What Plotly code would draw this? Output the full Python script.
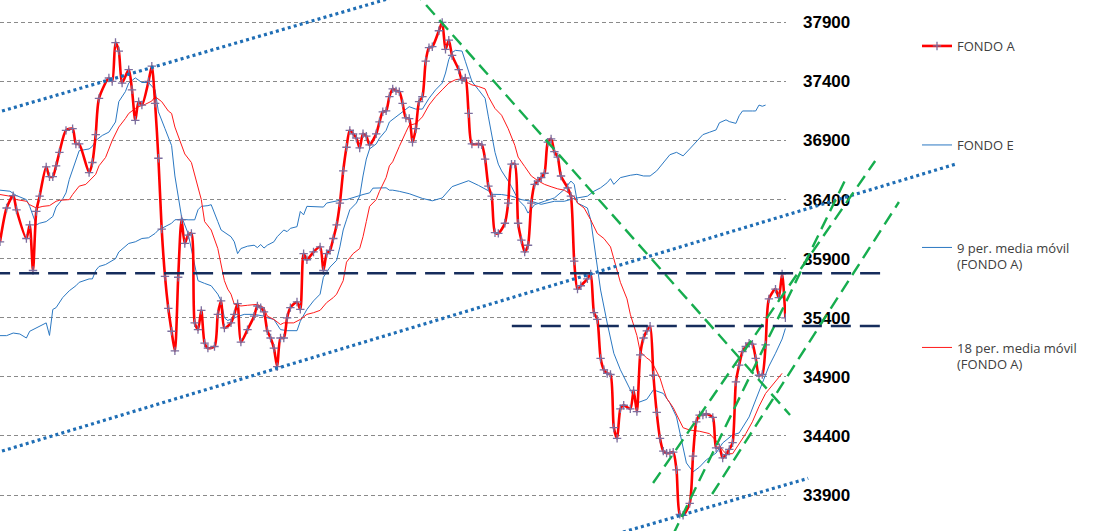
import plotly.graph_objects as go

# ---------------- data (session index, value) ----------------
fa_day = [0, 2, 4, 5, 8, 9, 10, 11, 12, 14,
          15, 16, 17, 18, 20, 22, 23, 24, 27, 28,
          29, 30, 33, 34, 35, 36, 37, 39, 40, 41,
          42, 43, 45, 46, 47, 48, 49, 50, 51, 52,
          53, 54, 55, 56, 57, 58, 59, 60, 61, 62,
          63, 65, 66, 67, 68, 70, 71, 72, 73, 75,
          77, 78, 79, 80, 81, 82, 83, 84, 85, 86,
          87, 88, 90, 91, 92, 93, 95, 97, 98, 99,
          100, 101, 102, 103, 104, 105, 106, 107, 108, 109,
          110, 111, 112, 114, 115, 116, 117, 118, 119, 120,
          121, 122, 123, 124, 125, 126, 127, 128, 129, 130,
          131, 133, 134, 135, 136, 137, 139, 140, 141, 142,
          143, 145, 146, 147, 148, 149, 150, 151, 153, 154,
          155, 156, 157, 158, 159, 160, 161, 162, 163, 164,
          165, 166, 167, 168, 169, 170, 172, 173, 174, 175,
          176, 178, 179, 180, 181, 182, 183, 184, 185, 186,
          187, 188, 189, 191, 192, 193, 194, 195, 196, 197,
          198, 199, 200, 201, 202, 203, 204, 205, 206, 207,
          209, 210, 211, 212, 213, 214, 216, 217, 218, 219,
          220, 221, 222, 223, 224, 225, 226, 227, 228, 229,
          230, 231, 232, 233, 235, 236, 237, 238]
fa_val = [36043, 36329, 36434, 36314, 36071, 36186, 35800, 36300, 36429, 36677,
          36594, 36594, 36686, 36800, 36986, 37000, 36871, 36871, 36629, 36714,
          36950, 37257, 37429, 37400, 37729, 37657, 37386, 37500, 37329, 37071,
          37229, 37200, 37400, 37529, 37214, 36750, 36150, 35750, 35480, 35286,
          35120, 35743, 36229, 36029, 36100, 36114, 35357, 35300, 35463, 35186,
          35143, 35157, 35429, 35543, 35314, 35357, 35429, 35520, 35194, 35300,
          35414, 35500, 35486, 35450, 35290, 35229, 35143, 34986, 35229, 35229,
          35400, 35486, 35534, 35471, 35943, 35891, 35957, 36000, 35800, 35943,
          35971, 36071, 36186, 36371, 36643, 36843, 36986, 36957, 36920, 36837,
          36957, 36937, 36863, 36957, 37057, 37143, 37151, 37271, 37337, 37320,
          37314, 37214, 37091, 37086, 36886, 37000, 37229, 37271, 37571, 37686,
          37694, 37829, 37900, 37671, 37749, 37620, 37500, 37414, 37429, 37129,
          36871, 36871, 36863, 36743, 36514, 36429, 36120, 36114, 36200, 36371,
          36700, 36700, 36200, 36057, 35957, 36014, 36371, 36529, 36557, 36586,
          36623, 36886, 36914, 36806, 36760, 36600, 36500, 36429, 35880, 35643,
          35671, 35729, 35771, 35443, 35386, 35057, 34960, 34929, 34920, 34471,
          34380, 34629, 34660, 34629, 34786, 34606, 35086, 35229, 35290, 35329,
          34914, 34600, 34380, 34272, 34255, 34257, 34263, 34114, 33737, 33729,
          33830, 34229, 34520, 34577, 34577, 34586, 34557, 34300, 34300, 34214,
          34243, 34286, 34343, 34857, 35000, 35114, 35157, 35186, 35177, 35057,
          34914, 34920, 35171, 35560, 35643, 35570, 35771, 35400]

fe_day = [0, 2, 4, 6, 8, 9, 10, 12, 14, 15,
          16, 17, 18, 19, 21, 23, 24, 27, 28, 29,
          30, 32, 35, 36, 39, 41, 43, 45, 47, 48,
          50, 52, 53, 55, 57, 59, 60, 61, 63, 64,
          66, 67, 70, 71, 72, 73, 75, 77, 78, 79,
          80, 81, 83, 84, 86, 87, 88, 90, 91, 92,
          93, 96, 98, 99, 101, 102, 104, 105, 107, 109,
          110, 112, 113, 115, 117, 118, 119, 121, 124, 128,
          131, 134, 137, 140, 142, 145, 148, 149, 152, 155,
          158, 161, 164, 168, 171, 174, 178, 180, 182, 184,
          185, 186, 188, 191, 193, 195, 197, 199, 201, 203,
          205, 207, 209, 211, 213, 215, 217, 218, 220, 221,
          223, 224, 225, 228, 229, 230, 231, 232]
fe_val = [35249, 35249, 35271, 35263, 35229, 35286, 35300, 35329, 35357, 35251,
          35471, 35486, 35529, 35571, 35629, 35671, 35700, 35729, 35729, 35800,
          35834, 35851, 35900, 35957, 36029, 36043, 36071, 36077, 36114, 36143,
          36171, 36200, 36229, 36234, 36229, 36229, 36314, 36343, 36349, 36357,
          36214, 36143, 36086, 36043, 35943, 35986, 36006, 36014, 35994, 36020,
          35990, 36014, 36043, 36086, 36143, 36129, 36157, 36171, 36300, 36271,
          36343, 36337, 36337, 36371, 36383, 36391, 36400, 36400, 36414, 36434,
          36443, 36457, 36497, 36500, 36500, 36480, 36480, 36470, 36450, 36410,
          36390, 36414, 36510, 36540, 36560, 36520, 36475, 36445, 36443, 36430,
          36400, 36386, 36360, 36386, 36386, 36410, 36429, 36471, 36500, 36543,
          36577, 36529, 36586, 36606, 36614, 36600, 36600, 36643, 36714, 36780,
          36800, 36770, 36829, 36886, 36950, 36970, 36990, 37050, 37075, 37060,
          37045, 37110, 37150, 37150, 37150, 37200, 37190, 37200]

ma9_day = [0, 3, 5, 8, 9, 11, 12, 14, 16, 17,
           19, 20, 21, 23, 24, 27, 28, 29, 31, 33,
           35, 36, 38, 39, 41, 43, 45, 47, 48, 50,
           52, 53, 54, 55, 57, 58, 59, 60, 62, 64,
           66, 67, 68, 69, 71, 73, 74, 77, 80, 81,
           83, 85, 87, 90, 91, 93, 95, 97, 98, 100,
           102, 103, 104, 105, 106, 108, 109, 110, 111, 112,
           114, 115, 117, 118, 120, 122, 124, 126, 128, 130,
           132, 134, 135, 136, 137, 138, 140, 141, 143, 145,
           147, 148, 149, 150, 151, 152, 154, 155, 157, 159,
           160, 162, 165, 168, 171, 173, 174, 175, 177, 178,
           179, 180, 181, 182, 184, 186, 188, 190, 192, 193,
           196, 198, 201, 203, 205, 207, 208, 210, 212, 214,
           217, 219, 222, 224, 227, 229, 231, 233, 235, 237,
           238]
ma9_val = [36480, 36471, 36434, 36400, 36343, 36186, 36200, 36214, 36257, 36337,
           36406, 36457, 36571, 36743, 36814, 36829, 36851, 36900, 36943, 36971,
           37057, 37229, 37314, 37386, 37430, 37391, 37391, 37329, 37143, 37000,
           36857, 36600, 36429, 36257, 36114, 35971, 35857, 35714, 35691, 35671,
           35600, 35543, 35400, 35377, 35400, 35423, 35429, 35429, 35414, 35400,
           35386, 35300, 35291, 35291, 35371, 35471, 35543, 35600, 35743, 35829,
           35886, 36000, 36143, 36229, 36314, 36371, 36429, 36600, 36743, 36829,
           36871, 36920, 36986, 37057, 37100, 37143, 37186, 37166, 37166, 37257,
           37329, 37386, 37471, 37586, 37643, 37663, 37657, 37571, 37400, 37329,
           37257, 37100, 36950, 36800, 36700, 36643, 36557, 36510, 36400, 36343,
           36286, 36357, 36386, 36414, 36486, 36557, 36529, 36371, 36343, 36329,
           36229, 36029, 35800, 35635, 35356, 35100, 34960, 34849, 34733, 34679,
           34710, 34790, 34760, 34679, 34561, 34307, 34172, 34096, 34138, 34197,
           34256, 34341, 34409, 34426, 34561, 34705, 34850, 34990, 35100, 35220,
           35310]

ma18_day = [0, 3, 5, 8, 9, 11, 13, 15, 17, 18,
            21, 22, 24, 26, 27, 29, 30, 32, 34, 36,
            38, 39, 41, 42, 44, 46, 47, 49, 51, 52,
            53, 55, 56, 58, 60, 61, 62, 64, 66, 67,
            68, 69, 70, 71, 73, 75, 78, 80, 81, 83,
            85, 86, 89, 91, 93, 95, 97, 99, 101, 102,
            104, 105, 107, 109, 110, 111, 112, 114, 115, 117,
            118, 119, 120, 121, 123, 124, 126, 128, 130, 132,
            134, 136, 138, 140, 141, 143, 145, 147, 148, 150,
            152, 154, 156, 157, 159, 160, 161, 163, 165, 167,
            169, 171, 172, 174, 175, 177, 179, 181, 183, 185,
            186, 187, 188, 190, 191, 193, 194, 196, 197, 198,
            200, 201, 202, 204, 206, 207, 209, 212, 215, 217,
            219, 220, 222, 224, 226, 228, 230, 232, 234, 236,
            237]
ma18_val = [36443, 36429, 36400, 36386, 36357, 36329, 36343, 36349, 36386, 36394,
            36400, 36443, 36514, 36529, 36557, 36614, 36686, 36757, 36900, 37014,
            37086, 37129, 37171, 37186, 37206, 37234, 37271, 37229, 37150, 37129,
            37014, 36850, 36786, 36714, 36514, 36400, 36214, 36143, 35986, 35857,
            35714, 35643, 35600, 35514, 35500, 35506, 35514, 35486, 35414, 35386,
            35343, 35357, 35357, 35386, 35429, 35443, 35463, 35529, 35571, 35600,
            35714, 35871, 35943, 35986, 36086, 36214, 36343, 36400, 36471, 36586,
            36686, 36720, 36790, 36850, 36971, 37029, 37043, 37100, 37200, 37271,
            37329, 37386, 37414, 37423, 37400, 37371, 37357, 37337, 37271, 37171,
            37114, 37000, 36860, 36760, 36680, 36640, 36600, 36560, 36529, 36509,
            36491, 36480, 36463, 36423, 36371, 36329, 36229, 36114, 36071, 36000,
            35900, 35800, 35700, 35560, 35430, 35250, 35113, 35060, 35040, 35000,
            34890, 34800, 34720, 34640, 34520, 34470, 34450, 34440, 34420, 34360,
            34280, 34250, 34250, 34330, 34420, 34520, 34650, 34760, 34830, 34890,
            34930]

y_ticks = [33900, 34400, 34900, 35400, 35900, 36400, 36900, 37400, 37900]

# hand-drawn analysis lines: (sessions, values)
blue_upper_day, blue_upper_val = [-3, 127], [37120, 38175]
blue_mid_day, blue_mid_val = [-3, 289.4], [34242, 36699]
blue_low_day, blue_low_val = [187, 244.9], [33572, 34042]
green_down_day, green_down_val = [125.1, 239.4], [38173, 34578]
green_a_day, green_a_val = [197.9, 265.2], [34002, 36727]
green_b_day, green_b_val = [203.9, 256.7], [33562, 36600]
green_c_day, green_c_val = [215.8, 272.4], [33909, 36380]
navy1_day, navy1_val = [-3, 266.7], [35777, 35777]
navy2_day, navy2_val = [155.1, 266.7], [35331, 35331]

assert len(fa_day) == len(fa_val)
assert len(fe_day) == len(fe_val)
assert len(ma9_day) == len(ma9_val)
assert len(ma18_day) == len(ma18_val)

# ---------------- figure ----------------
W, H = 1097, 531
PX_PER_DAY = 3.3
PLOT_RIGHT = 786
Y_RANGE = [33596, 38089]

fig = go.Figure()

fig.add_trace(go.Scatter(x=fe_day, y=fe_val, mode="lines", name="FONDO E",
                         line=dict(color="#2b78c2", width=1), legend="legend2",
                         hoverinfo="skip"))
fig.add_trace(go.Scatter(x=ma9_day, y=ma9_val, mode="lines",
                         name="9 per. media móvil<br>(FONDO A)",
                         line=dict(color="#2b78c2", width=1), legend="legend3",
                         hoverinfo="skip"))
fig.add_trace(go.Scatter(x=ma18_day, y=ma18_val, mode="lines",
                         name="18 per. media móvil<br>(FONDO A)",
                         line=dict(color="#ff1a1a", width=1), legend="legend4",
                         hoverinfo="skip"))
fig.add_trace(go.Scatter(x=fa_day, y=fa_val, mode="lines+markers", name="FONDO A",
                         line=dict(color="#ff0000", width=2.6, shape="spline", smoothing=0.7),
                         marker=dict(symbol="cross-thin", size=6,
                                     line=dict(width=1.3, color="#7b6e9e")),
                         legend="legend", hoverinfo="skip"))

def add_line(xs, ys, color, width, dash):
    fig.add_trace(go.Scatter(x=xs, y=ys, mode="lines", xaxis="x2", yaxis="y2",
                             line=dict(color=color, width=width, dash=dash),
                             showlegend=False, hoverinfo="skip"))

DOT = "3px,3.2px"
GDASH = "13px,7px"
NDASH = "20px,9px"
add_line(blue_upper_day, blue_upper_val, "#1f6eb5", 3.2, DOT)
add_line(blue_mid_day, blue_mid_val, "#1f6eb5", 3.2, DOT)
add_line(blue_low_day, blue_low_val, "#1f6eb5", 3.2, DOT)
add_line(green_down_day, green_down_val, "#16ad4e", 2.4, GDASH)
add_line(green_a_day, green_a_val, "#16ad4e", 2.4, GDASH)
add_line(green_b_day, green_b_val, "#16ad4e", 2.4, GDASH)
add_line(green_c_day, green_c_val, "#16ad4e", 2.4, GDASH)
add_line(navy1_day, navy1_val, "#162d5c", 2.6, NDASH)
add_line(navy2_day, navy2_val, "#162d5c", 2.6, NDASH)

legend_common = dict(xanchor="left", yanchor="middle", x=917 / W,
                     bgcolor="rgba(0,0,0,0)", borderwidth=0,
                     font=dict(family="Open Sans, Arial", size=13, color="#404040"),
                     valign="top", itemclick=False, itemdoubleclick=False)

fig.update_layout(
    template="none",
    width=W, height=H,
    margin=dict(l=0, r=0, t=0, b=0),
    paper_bgcolor="white",
    plot_bgcolor="rgba(0,0,0,0)",
    showlegend=True,
    xaxis=dict(domain=[0, PLOT_RIGHT / W], range=[0, PLOT_RIGHT / PX_PER_DAY],
               visible=False, showgrid=False, zeroline=False, fixedrange=True),
    yaxis=dict(side="right", anchor="x", range=Y_RANGE, tickvals=y_ticks,
               ticktext=[str(v) for v in y_ticks],
               showgrid=True, gridcolor="#8a8a8a", gridwidth=1, griddash="4px,3px",
               showline=False, zeroline=False, ticks="", automargin=False,
               ticklabelstandoff=16,
               tickfont=dict(family="Liberation Sans, Arial", size=17,
                             color="#000000", weight="bold")),
    xaxis2=dict(domain=[0, 1], range=[0, W / PX_PER_DAY], anchor="y2",
                visible=False, showgrid=False, zeroline=False),
    yaxis2=dict(domain=[0, 1], range=Y_RANGE, anchor="x2", visible=False,
                showgrid=False, zeroline=False),
    legend=dict(legend_common, y=1 - 46 / H),
    legend2=dict(legend_common, y=1 - 145 / H),
    legend3=dict(legend_common, y=1 - 256 / H),
    legend4=dict(legend_common, y=1 - 356 / H),
)

fig.write_html(
    "out.html",
    config={"displayModeBar": False},
    post_script="document.body.style.margin='0';document.body.style.overflow='hidden';",
)
